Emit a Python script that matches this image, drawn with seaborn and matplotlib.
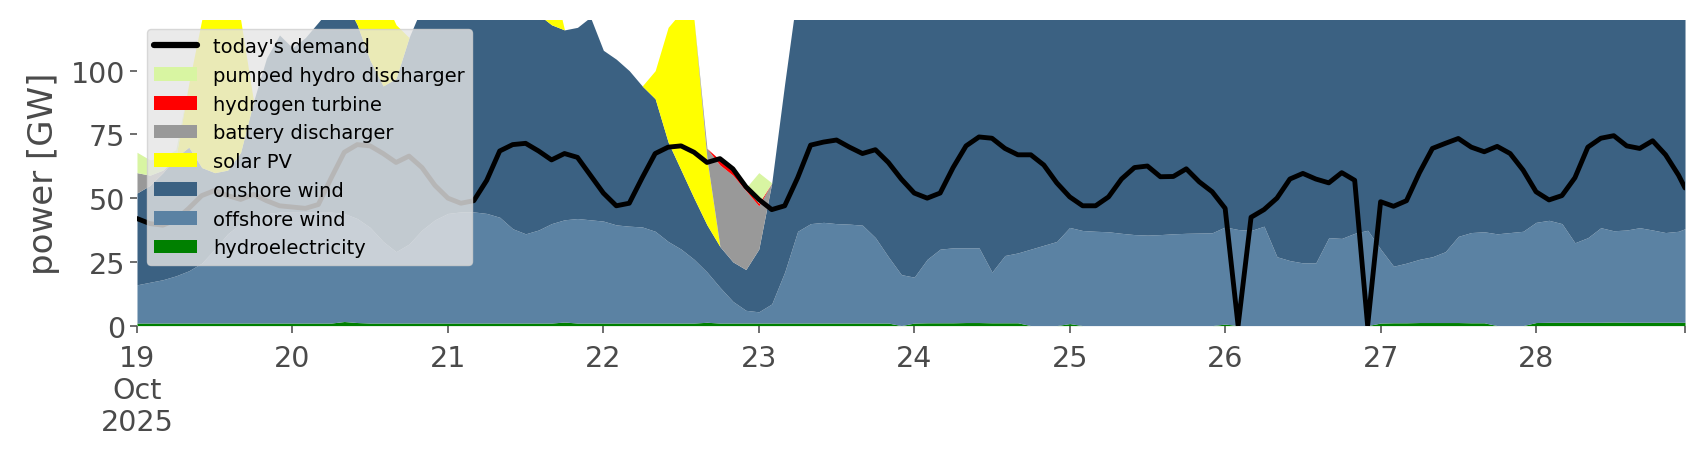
import numpy as np
import pandas as pd
import matplotlib
matplotlib.use("Agg")
import matplotlib.pyplot as plt
import seaborn as sns
from matplotlib.lines import Line2D
from matplotlib.patches import Patch

# ---------------- data (GW, 2-hourly, 19 Oct 00:00 .. 28 Oct 22:00, + 28 Oct 23:00) -------------
start = "2025-10-19 00:00"
last_stamp = "2025-10-28 23:00"

hydroelectricity = [
    1.0, 1.0, 1.0, 1.0, 1.0, 1.0, 1.0, 1.0, 1.0, 1.0, 1.0, 1.0,   # 19
    1.0, 1.0, 1.0, 1.0, 1.6, 1.2, 1.0, 1.0, 1.0, 1.0, 1.0, 1.0,   # 20
    1.0, 1.0, 1.0, 1.0, 1.0, 1.0, 1.0, 1.0, 1.0, 1.4, 1.0, 1.0,   # 21
    1.0, 1.0, 1.0, 1.0, 1.0, 1.0, 1.0, 1.0, 1.3, 1.0, 1.0, 1.0,   # 22
    1.0, 1.0, 1.0, 1.0, 1.0, 1.0, 1.0, 1.0, 1.0, 1.0, 1.0, 0.0,   # 23
    1.0, 1.1, 1.1, 1.1, 1.2, 1.2, 1.1, 1.1, 1.1, 0.0, 0.0, 0.0,   # 24
    0.8, 0.0, 0.0, 0.0, 0.0, 0.0, 0.0, 0.0, 0.0, 0.0, 0.0, 0.0,   # 25
    0.6, 0.0, 0.0, 0.0, 0.0, 0.0, 0.0, 0.0, 0.0, 0.0, 0.0, 0.0,   # 26
    1.0, 1.1, 1.1, 1.2, 1.2, 1.2, 1.2, 1.1, 1.1, 0.0, 0.0, 0.0,   # 27
    1.2, 1.3, 1.3, 1.3, 1.3, 1.3, 1.4, 1.3, 1.3, 1.3, 1.3, 1.3,   # 28
    1.3]

offshore_wind = [
    15, 16, 17, 18.5, 20.5, 23.5, 29, 35, 39, 42, 43, 43.5,
    43.5, 43.5, 43.5, 43.5, 42.4, 40.8, 37.5, 32, 28, 31, 36.5, 40.5,
    43, 43.6, 43.6, 43, 41.5, 37, 35, 36.5, 39, 40.1, 41, 40.5,
    40, 38.5, 38, 37.7, 36, 32, 29, 25, 19.7, 14, 8.5, 5,
    4.4, 7.5, 20, 36, 39, 39.5, 39, 38.8, 38.4, 33.5, 26, 20,
    18, 24.9, 28.9, 29.4, 29.3, 29.3, 19.9, 26.4, 27.4, 30, 31.5, 33,
    37.7, 37.3, 37, 36.8, 36.2, 35.7, 35.5, 35.7, 36, 36.2, 36.3, 36.4,
    38.1, 37.7, 37.3, 39, 27, 25.5, 24.6, 24.6, 34.5, 34.2, 36.2, 37.4,
    29, 22.2, 23.4, 24.8, 25.8, 27.8, 33.8, 35.4, 35.7, 36, 36.5, 37,
    39.3, 40, 38.7, 31.2, 33.2, 37.1, 35.8, 36.2, 37.1, 36.2, 35.2, 35.7,
    36.7]

onshore_wind = [
    36, 38, 42, 46.5, 48.5, 37.5, 30, 25, 28, 45, 61, 69.5,
    64.5, 68.5, 74.5, 80.5, 84, 76, 65.5, 61, 68, 81, 87.5, 91.5,
    96, 100.4, 95.4, 91, 87.5, 90, 89, 84.5, 78, 74.5, 75, 79.5,
    67, 65, 61, 55.3, 52, 39, 31, 24, 18.5, 16, 15.5, 16,
    24.6, 47.5, 74, 95, 98, 100, 102, 104, 105, 107, 108, 110,
    108, 106, 104, 103, 102, 101, 104, 103, 102, 101, 100, 99,
    98, 97, 96, 96, 95, 95, 96, 97, 98, 99, 100, 101,
    102, 103, 104, 104, 105, 106, 106, 105, 104, 103, 102, 101,
    100, 103, 104, 104, 103, 102, 100, 99, 98, 98, 99, 100,
    101, 102, 102, 104, 104, 103, 102, 101, 100, 99, 98, 97,
    96]

solar_pv = [
    0, 0, 0, 0, 25, 58, 70, 65, 52, 0, 0, 0,
    0, 0, 0, 0, 10, 25, 35, 35, 21, 0, 0, 0,
    0, 0, 0, 0, 15, 35, 45, 40, 20, 0, 0, 0,
    0, 0, 0, 0, 11, 45, 62, 70, 26, 0, 0, 0,
    0, 0, 0, 0, 12, 35, 45, 40, 20, 0, 0, 0,
    0, 0, 0, 0, 14, 38, 48, 42, 18, 0, 0, 0,
    0, 0, 0, 0, 10, 30, 40, 36, 16, 0, 0, 0,
    0, 0, 0, 0, 12, 33, 44, 38, 17, 0, 0, 0,
    0, 0, 0, 0, 9, 28, 38, 34, 15, 0, 0, 0,
    0, 0, 0, 0, 11, 31, 42, 37, 16, 0, 0, 0,
    0]

battery_discharger = [0] * 121
for idx, val in {0: 8, 1: 4, 2: 1, 44: 4, 45: 32, 46: 34, 47: 31, 48: 17}.items():
    battery_discharger[idx] = val

hydrogen_turbine = [0] * 121
for idx, val in {45: 2, 46: 2.5, 47: 1, 48: 1}.items():
    hydrogen_turbine[idx] = val

pumped_hydro_discharger = [0] * 121
for idx, val in {0: 8, 1: 6, 2: 5, 3: 3, 48: 12}.items():
    pumped_hydro_discharger[idx] = val

todays_demand = [
    42, 40, 39.4, 41.5, 46, 51, 53, 51, 49.5, 51.5, 49, 47,
    46.5, 46, 47.5, 58, 68, 71, 70.5, 67.5, 64, 66.5, 62, 55,
    50, 48, 49, 57, 68.5, 71, 71.5, 68.5, 65, 67.5, 66, 59,
    52, 47, 48, 58, 67.5, 70, 70.5, 68, 64, 65.5, 61.5, 54.5,
    49.5, 45.5, 47, 58, 70.8, 72, 72.8, 70, 67.5, 69, 64, 57.5,
    52, 50, 52, 62, 70.5, 74, 73.5, 69.5, 67, 67, 63, 56,
    50.5, 47, 47, 50.5, 57.5, 62, 62.6, 58.4, 58.5, 61.5, 56.4, 52.5,
    46, 0, 42.5, 45.5, 50, 57.5, 59.7, 57.5, 56, 60, 57, 0,
    48.6, 46.8, 49, 60, 69.5, 71.5, 73.4, 70, 68.2, 70.3, 67.5, 61,
    52.5, 49.3, 51, 58, 70, 73.5, 74.5, 70.5, 69.5, 72.5, 67, 59,
    54]

tech_names = ["hydroelectricity", "offshore wind", "onshore wind", "solar PV",
              "battery discharger", "hydrogen turbine", "pumped hydro discharger"]
tech_colors = ["#008000", "#5b82a3", "#3b6182", "#ffff00",
               "#999999", "#ff0000", "#d8f5a2"]
day_labels = ["19\nOct\n2025", "20", "21", "22", "23", "24", "25", "26", "27", "28"]

# ---------------- plot ----------------
sns.set_theme(style="ticks")
plt.rcParams["font.family"] = ["DejaVu Sans"]

times = pd.date_range(start, periods=120, freq="2h").append(pd.DatetimeIndex([last_stamp]))
layers = [hydroelectricity, offshore_wind, onshore_wind, solar_pv,
          battery_discharger, hydrogen_turbine, pumped_hydro_discharger]

fig = plt.figure(figsize=(17.06, 4.6), dpi=100)
ax = fig.add_axes([0.0803, 0.290, 0.9074, 0.665])
ax.set_facecolor("white")

ax.stackplot(times, *[np.asarray(l, float) for l in layers],
             colors=tech_colors, linewidth=0)
sns.lineplot(x=times, y=todays_demand, color="black", linewidth=3.5, ax=ax, legend=False)

ax.set_xlim(times[0], times[-1])
ax.set_ylim(0, 120)
ax.set_yticks([0, 25, 50, 75, 100])
day_ticks = pd.date_range("2025-10-19", "2025-10-28", freq="D")
ax.set_xticks(day_ticks)
ax.set_xticklabels(day_labels)
ax.set_xticks([times[-1]], minor=True)
ax.tick_params(axis="both", which="both", labelsize=20.5, colors="#555555",
               labelcolor="#4a4a4a", length=5, width=1.2)
ax.tick_params(axis="x", which="both", pad=8)
ax.set_xlabel("")
ax.set_ylabel("power [GW]", fontsize=24.5, color="#4a4a4a", labelpad=8)
for s in ax.spines.values():
    s.set_visible(False)

handles = [Line2D([0], [0], color="black", lw=4.5, label="today's demand")]
for name, col in reversed(list(zip(tech_names, tech_colors))):
    handles.append(Patch(facecolor=col, edgecolor="none", label=name))
leg = ax.legend(handles=handles, loc="upper left", fontsize=14, framealpha=0.8,
                facecolor="#e5e5e5", edgecolor="#d0d0d0", handlelength=2.2,
                borderaxespad=0.5, labelspacing=0.5)
for t in leg.get_texts():
    t.set_color("black")

fig.savefig("out.png", dpi=100)
